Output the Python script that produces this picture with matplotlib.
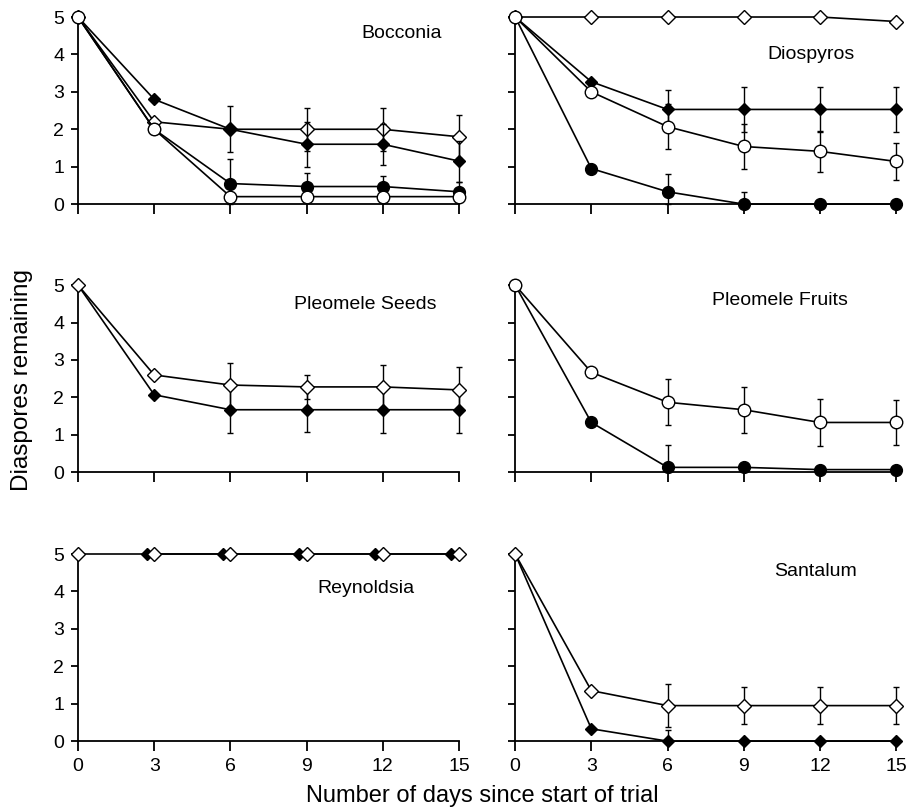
import numpy as np
import matplotlib
matplotlib.use("Agg")
import matplotlib.pyplot as plt

plt.rcParams["font.family"] = ["Liberation Sans", "DejaVu Sans"]

days = [0, 3, 6, 9, 12, 15]

# ===== DATA (value, error) per panel / series =====
# Bocconia
boc_fd = [5, 2.8, 2.0, 1.6, 1.6, 1.15]
boc_fd_err = [0, 0, 0, 0.6, 0.55, 0.55]
boc_od = [5, 2.2, 2.0, 2.0, 2.0, 1.8]
boc_od_err = [0, 0, 0.62, 0.57, 0.57, 0.58]
boc_fc = [5, 2.0, 0.55, 0.47, 0.47, 0.33]
boc_fc_err = [0, 0, 0.65, 0.35, 0.28, 0.27]
boc_oc = [5, 2.0, 0.2, 0.2, 0.2, 0.2]

# Diospyros
dio_od = [5, 5, 5, 5, 5, 4.88]
dio_fd = [5, 3.27, 2.53, 2.53, 2.53, 2.53]
dio_fd_err = [0, 0, 0.52, 0.6, 0.6, 0.6]
dio_oc = [5, 3.0, 2.07, 1.54, 1.41, 1.14]
dio_oc_err = [0, 0, 0.6, 0.6, 0.55, 0.5]
dio_fc = [5, 0.95, 0.33, 0.0, 0.0, 0.0]
dio_fc_err = [0, 0, 0.47, 0.32, 0, 0]

# Pleomele Seeds
pls_od = [5, 2.6, 2.33, 2.28, 2.28, 2.2]
pls_od_err = [0, 0, 0.6, 0.33, 0.58, 0.6]
pls_fd = [5, 2.07, 1.67, 1.67, 1.67, 1.67]
pls_fd_err = [0, 0, 0.63, 0.59, 0.62, 0.62]

# Pleomele Fruits
plf_oc = [5, 2.67, 1.87, 1.67, 1.33, 1.33]
plf_oc_err = [0, 0, 0.62, 0.62, 0.62, 0.6]
plf_fc = [5, 1.33, 0.13, 0.13, 0.07, 0.07]
plf_fc_err = [0, 0, 0.6, 0, 0, 0]

# Reynoldsia (filled series drawn slightly offset)
rey_fd_days = [2.7, 5.7, 8.7, 11.7, 14.7]
rey_fd = [5, 5, 5, 5, 5]
rey_od = [5, 5, 5, 5, 5, 5]

# Santalum
san_od = [5, 1.35, 0.95, 0.95, 0.95, 0.95]
san_od_err = [0, 0, 0.57, 0.5, 0.5, 0.5]
san_fd = [5, 0.33, 0.0, 0.0, 0.0, 0.0]
san_fd_err = [0, 0, 0.3, 0, 0, 0]

STYLE = {
    "fd": dict(marker="D", mfc="black", ms=6.5),
    "od": dict(marker="D", mfc="white", ms=7.5),
    "fc": dict(marker="o", mfc="black", ms=8.5),
    "oc": dict(marker="o", mfc="white", ms=9),
}


def series(ax, x, y, kind, err=None, z=3):
    st = STYLE[kind]
    if err is not None:
        y_arr = np.asarray(y, float)
        e = np.asarray(err, float)
        lower = np.minimum(e, y_arr)   # bars stop at zero
        ax.errorbar(x, y, yerr=[lower, e], fmt="none", ecolor="black",
                    elinewidth=1, capsize=2.5, capthick=1, zorder=z - 1,
                    clip_on=False)
    ax.plot(x, y, color="black", lw=1.2, marker=st["marker"], mfc=st["mfc"],
            mec="black", mew=1.0, ms=st["ms"], zorder=z, clip_on=False)


fig = plt.figure(figsize=(9.07, 8.10), dpi=100)

lefts = [0.086, 0.568]
bottoms = [0.748, 0.417, 0.085]
w, h = 0.420, 0.231
FS = 14

axes = {}
for r, b in enumerate(bottoms):
    for c, l in enumerate(lefts):
        ax = fig.add_axes([l, b, w, h])
        ax.set_xlim(0, 15)
        ax.set_ylim(0, 5)
        ax.set_xticks(days)
        ax.set_yticks(range(6))
        for s in ["top", "right"]:
            ax.spines[s].set_visible(False)
        for s in ["left", "bottom"]:
            ax.spines[s].set_linewidth(1.3)
        ax.tick_params(axis="x", direction="out", length=7, width=1.3,
                       labelsize=FS, pad=5)
        ax.tick_params(axis="y", direction="out", length=5, width=1.3,
                       labelsize=FS, pad=5)
        if r < 2:
            ax.set_xticklabels([])
        if c == 1:
            ax.set_yticklabels([])
        axes[(r, c)] = ax

# Bocconia
ax = axes[(0, 0)]
series(ax, days, boc_od, "od", boc_od_err, z=3)
series(ax, days, boc_fd, "fd", boc_fd_err, z=4)
series(ax, days, boc_fc, "fc", boc_fc_err, z=5)
series(ax, days, boc_oc, "oc", z=6)
ax.text(0.85, 0.914, "Bocconia", transform=ax.transAxes, ha="center",
        va="center", fontsize=FS)

# Diospyros
ax = axes[(0, 1)]
series(ax, days, dio_od, "od", z=3)
series(ax, days, dio_fd, "fd", dio_fd_err, z=4)
series(ax, days, dio_fc, "fc", dio_fc_err, z=5)
series(ax, days, dio_oc, "oc", dio_oc_err, z=6)
ax.text(0.776, 0.797, "Diospyros", transform=ax.transAxes, ha="center",
        va="center", fontsize=FS)

# Pleomele Seeds
ax = axes[(1, 0)]
series(ax, days, pls_fd, "fd", pls_fd_err, z=3)
series(ax, days, pls_od, "od", pls_od_err, z=4)
ax.text(0.753, 0.898, "Pleomele Seeds", transform=ax.transAxes, ha="center",
        va="center", fontsize=FS)

# Pleomele Fruits
ax = axes[(1, 1)]
series(ax, days, plf_fc, "fc", plf_fc_err, z=3)
series(ax, days, plf_oc, "oc", plf_oc_err, z=4)
ax.text(0.695, 0.92, "Pleomele Fruits", transform=ax.transAxes, ha="center",
        va="center", fontsize=FS)

# Reynoldsia
ax = axes[(2, 0)]
series(ax, rey_fd_days, rey_fd, "fd", z=3)
series(ax, days, rey_od, "od", z=4)
ax.text(0.756, 0.818, "Reynoldsia", transform=ax.transAxes, ha="center",
        va="center", fontsize=FS)

# Santalum
ax = axes[(2, 1)]
series(ax, days, san_fd, "fd", san_fd_err, z=3)
series(ax, days, san_od, "od", san_od_err, z=4)
ax.text(0.789, 0.909, "Santalum", transform=ax.transAxes, ha="center",
        va="center", fontsize=FS)

fig.text(0.024, 0.531, "Diaspores remaining", rotation=90, ha="center",
         va="center", fontsize=17.5)
fig.text(0.532, 0.01, "Number of days since start of trial", ha="center",
         va="baseline", fontsize=17)

fig.savefig("out.png", dpi=100)
